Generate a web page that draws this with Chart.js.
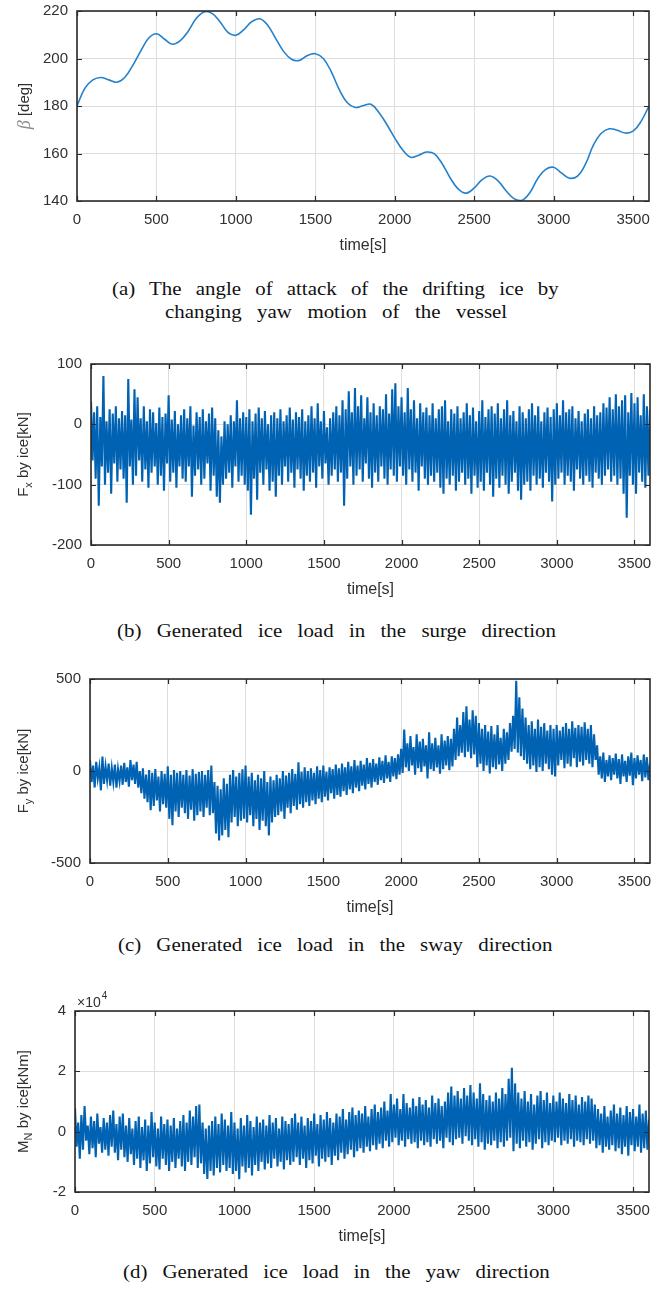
<!DOCTYPE html>
<html>
<head>
<meta charset="utf-8">
<script src="https://cdn.jsdelivr.net/npm/chart.js@4.4.1/dist/chart.umd.min.js"></script>
<style>
  body { margin: 0; background: #fff; width: 665px; height: 1291px; position: relative; overflow: hidden; }
  canvas { position: absolute; left: 0; }
  .cap {
    position: absolute; height: 24px; line-height: 24px;
    font-family: "Liberation Serif", "Times New Roman", serif; font-size: 19px; color: #111;
    text-align: justify; text-align-last: justify;
    transform: scaleX(1.1); transform-origin: 0 0;
  }
</style>
</head>
<body>
<canvas id="pa"></canvas>
<canvas id="pb"></canvas>
<canvas id="pc"></canvas>
<canvas id="pd"></canvas>
<div class="cap" style="left:112px; top:277px; width:406px;">(a) The angle of attack of the drifting ice by</div>
<div class="cap" style="left:165px; top:300px; width:311px;">changing yaw motion of the vessel</div>
<div class="cap" style="left:117px; top:619px; width:399px;">(b) Generated ice load in the surge direction</div>
<div class="cap" style="left:118px; top:933px; width:395px;">(c) Generated ice load in the sway direction</div>
<div class="cap" style="left:123px; top:1260px; width:388px;">(d) Generated ice load in the yaw direction</div>
<script>
// common time axis
const timeTicks = [0, 500, 1000, 1500, 2000, 2500, 3000, 3500];

// (a) angle of attack beta [deg], one value every 50 s from t = 0
const betaStep = 50;
const betaDeg = [
  180, 187.5, 191, 192, 191, 190, 192, 197, 203, 208.5,
  210.4, 208.2, 206, 207.5, 211.5, 216.8, 219.6, 219, 215.5, 211,
  209.8, 212.2, 215.5, 216.7, 214, 208.5, 203, 199.7, 199.2, 201.3,
  202, 200, 194.5, 187, 181.5, 179.4, 180.1, 180.7, 177.3, 172.2,
  166.5, 161.5, 158.4, 159.3, 160.6, 159.8, 155.5, 149.6, 145, 143.3,
  145.5, 149, 150.5, 148.5, 144.3, 141, 140.3, 143.5, 149.5, 153.3,
  154.2, 151.7, 149.6, 150.5, 155.5, 163.5, 168.5, 170.4, 169.8, 168.6,
  169.4, 173.5, 180
];
const betaTicks = [140, 160, 180, 200, 220];

// ice load records: local peaks at t = 0, 20, 40 ... and troughs 10 s after each peak
const peakStep = 20;

// (b) surge force Fx [kN]
const fxPeaks = [
  38, 20, 30, 12, 80, 5, 25, 18, 30, 10,
  22, 15, 75, 8, 58, 45, 10, 30, 5, 25,
  20, 2, 28, 12, 18, 48, 8, 22, 0, 15,
  25, 10, 30, -2, 20, 12, 25, 5, 18, 28,
  10, -10, -20, 5, 0, 15, 5, 40, 10, 20,
  12, 25, 5, 18, 28, 10, 22, 0, 15, 20,
  10, 25, 5, 15, 28, 8, 20, 12, 25, 5,
  15, 30, 10, 35, 5, 22, -5, 10, 20, 30,
  15, 40, 25, 55, 20, 60, 30, 48, 10, 45,
  20, 35, 15, 30, 25, 50, 18, 58, 68, 30,
  45, 20, 60, 25, 40, 10, 35, 20, 28, 15,
  35, 10, 25, 30, 40, 5, 25, 18, 30, 10,
  20, 35, 15, 28, 5, 22, 40, 12, 25, 30,
  18, 35, 10, 25, 40, 15, 22, 5, 30, 20,
  10, 25, 35, 15, 30, 5, 20, 28, 12, 25,
  35, 15, 40, 20, 25, 30, 10, 22, 5, 18,
  25, 10, 30, 15, 20, 35, 28, 45, 25, 50,
  30, 40, 48, 20, 52, 35, 45, 15, 50, 30,
  25
];
const fxTroughs = [
  -60, -90, -135, -70, -100, -80, -115, -65, -95, -75,
  -90, -130, -70, -100, -85, -60, -95, -75, -105, -80,
  -70, -100, -85, -110, -65, -95, -80, -105, -70, -90,
  -95, -70, -120, -85, -75, -100, -90, -65, -110, -85,
  -120, -130, -100, -90, -80, -105, -70, -95, -85, -100,
  -110, -150, -90, -125, -80, -100, -75, -110, -95, -120,
  -85, -100, -70, -95, -80, -105, -75, -90, -110, -85,
  -95, -80, -105, -70, -90, -65, -100, -85, -75, -95,
  -80, -135, -90, -70, -100, -85, -75, -95, -65, -90,
  -105, -80, -95, -70, -90, -100, -75, -85, -95, -70,
  -85, -100, -75, -95, -80, -110, -70, -90, -100, -85,
  -95, -80, -105, -115, -90, -100, -85, -110, -95, -80,
  -100, -90, -115, -85, -105, -95, -110, -80, -100, -120,
  -90, -105, -85, -100, -115, -95, -80, -110, -125, -100,
  -95, -110, -85, -100, -90, -105, -80, -95, -128, -100,
  -90, -80, -100, -85, -95, -110, -75, -90, -100, -85,
  -95, -105, -80, -90, -100, -85, -75, -95, -85, -100,
  -90, -115, -155, -85, -100, -115, -80, -95, -105, -85
];
const fxTicks = [-200, -100, 0, 100];

// (c) sway force Fy [kN]
const fyPeaks = [
  60, 30, 50, 20, 78, 25, 40, 15, 35, 10,
  30, 45, 20, 60, 35, 50, 0, 15, -20, 5,
  -10, 10, -30, 0, -15, 25, -20, 5, -10, 0,
  -20, 5, -25, 10, -15, -5, 0, -20, 5, 30,
  -60, -80, -100, -40, -70, -20, 5, -30, -10, 10,
  30, -30, -10, -50, -20, -40, 0, -60, -30, -50,
  -20, -40, 0, -25, -10, 10, -15, 47, -5, 20,
  0, 15, -10, 25, 5, 30, -5, 20, 10, 35,
  15, 40, 20, 50, 25, 60, 30, 55, 35, 70,
  45, 65, 40, 75, 55, 85, 50, 80, 70, 90,
  120, 225, 150, 190, 130, 200, 160, 175, 140, 210,
  150, 180, 140, 200, 165, 190, 175, 230, 290, 250,
  320, 352, 280, 330, 300, 260, 230, 250, 215, 245,
  200, 250, 180, 230, 210, 260, 300, 490, 400, 340,
  290, 250, 270, 230, 280, 240, 260, 220, 250, 230,
  250, 220, 240, 260, 230, 270, 235, 250, 240, 265,
  230, 250, 200, 140, 80, 100, 60, 85, 70, 95,
  65, 90, 55, 80, 100, 70, 85, 60, 90, 75,
  40
];
const fyTroughs = [
  -60, -90, -40, -105, -70, -50, -80, -60, -90, -55,
  -75, -60, -85, -50, -70, -90, -120, -150, -170, -213,
  -190, -160, -220, -180, -200, -260, -295, -220, -250, -200,
  -230, -260, -210, -270, -240, -220, -250, -200, -240, -230,
  -340, -378, -350, -320, -360, -280, -250, -300, -270, -260,
  -280, -240, -300, -260, -320, -270, -300, -350, -280, -250,
  -240, -220, -260, -200, -230, -190, -210, -180, -200, -170,
  -190, -160, -180, -150, -170, -140, -160, -120, -150, -130,
  -140, -110, -130, -100, -120, -90, -110, -80, -100, -70,
  -90, -60, -75, -50, -65, -40, -60, -30, -45, -20,
  -10, 20, 0, 30, -20, 15, -5, 25, -40, 10,
  0, 20, -15, 10, 30, 5, 25, 60, 80, 100,
  75, 105, 70, 90, 20, 40, 0, 30, -13, 20,
  10, 35, 0, 40, 60, 105, 120, 100, 80, 60,
  40, 10, 30, -5, 20, 0, 40, 10, -20, -30,
  30, 60, 15, 40, 25, 70, 20, 50, 30, 60,
  40, 20, 60, -20, -40, -60, -30, -50, -20, -40,
  -70, -30, -60, -25, -77, -40, -20, -55, -35, -50
];
const fyTicks = [-500, 0, 500];

// (d) yaw moment MN [x10^4 kNm]
const mnPeaks = [
  0.78, 0.3, 0.55, 0.85, 0.2, 0.5, 0.35, 0.6, 0.15, 0.45,
  0.3, 0.55, 0.7, 0.25, 0.5, 0.6, 0.2, 0.45, 0.1, 0.35,
  0.5, 0.15, 0.4, 0.2, 0.65, 0.3, 0.1, 0.5, 0.25, 0.4,
  0.2, 0.45, 0.1, 0.35, 0.55, 0.3, 0.7, 0.5, 0.85, 0.9,
  0.3, 0.1, 0.2, 0.35, 0.5, 0.25, 0.6, 0.4, 0.2, 0.65,
  0.3, 0.1, 0.45, 0.2, 0.55, 0.35, 0.15, 0.5, 0.3, 0.4,
  0.2, 0.55, 0.3, 0.45, 0.1, 0.5, 0.35, 0.25, 0.45, 0.6,
  0.3, 0.5, 0.2, 0.45, 0.35, 0.6, 0.25, 0.55, 0.4, 0.65,
  0.45, 0.3, 0.6, 0.5, 0.75, 0.4, 0.65, 0.8, 0.55, 0.7,
  0.6, 0.85, 0.5, 0.75, 0.9, 0.65, 0.8, 1.0, 0.7, 1.25,
  0.9, 1.1, 0.75, 1.25, 0.95, 0.8, 1.1, 0.85, 1.15, 0.9,
  1.05, 0.8, 1.2, 0.95, 1.1, 0.85, 1.0, 1.3, 1.5, 1.2,
  1.35, 1.1, 1.45, 1.2, 1.55, 1.3, 1.1, 1.6, 1.25, 1.05,
  1.2, 1.0, 1.3, 1.1, 1.45, 1.25, 1.75, 2.12, 1.6, 1.3,
  1.1, 1.35, 1.0, 1.25, 0.9, 1.2, 1.35, 1.05, 1.3, 0.95,
  1.2, 1.0, 1.3, 1.1, 0.95, 1.25, 1.05, 1.2, 0.9, 1.15,
  1.0, 1.2, 1.1, 0.9, 0.75, 0.6, 0.85, 0.5, 0.7, 0.9,
  0.6, 0.8, 0.55, 0.85, 0.65, 0.75, 0.5, 0.9, 0.6, 0.7,
  0.4
];
const mnTroughs = [
  -0.5, -0.9, -0.6, -0.3, -0.75, -0.55, -0.85, -0.4, -0.7, -0.6,
  -0.8, -0.5, -0.7, -0.95, -0.6, -0.85, -1.0, -0.75, -1.1, -0.9,
  -1.2, -0.95, -1.3, -1.05, -0.85, -1.15, -1.25, -0.9, -1.1, -1.3,
  -1.0, -1.2, -0.9, -1.15, -1.3, -1.0, -1.1, -0.85, -1.2, -1.05,
  -1.4, -1.57, -1.3, -1.45, -1.2, -1.35, -1.1, -1.3, -1.2, -1.4,
  -1.3, -1.58, -1.15, -1.35, -1.2, -1.45, -1.1, -1.3, -1.0, -1.25,
  -1.05, -1.2, -0.9, -1.15, -1.0, -1.25, -0.95, -1.1, -1.0, -0.85,
  -1.1, -0.9, -1.2, -0.95, -1.05, -0.8, -1.15, -0.9, -1.0, -0.85,
  -1.1, -0.8, -0.95, -0.7, -0.9, -0.75, -0.6, -0.85, -0.65, -0.55,
  -0.7, -0.5, -0.65, -0.45, -0.6, -0.4, -0.55, -0.3, -0.5, -0.35,
  -0.2, -0.45, -0.3, -0.5, -0.25, -0.4, -0.35, -0.55, -0.3, -0.45,
  -0.35, -0.5, -0.25, -0.4, -0.3, -0.55, -0.2, -0.35, -0.45, -0.25,
  -0.2, -0.4, -0.15, -0.3, -0.45, -0.25, -0.5, -0.35, -0.6, -0.4,
  -0.45, -0.3, -0.55, -0.35, -0.5, -0.3, -0.2, -0.65, -0.4, -0.55,
  -0.3, -0.5, -0.35, -0.6, -0.4, -0.25, -0.55, -0.35, -0.45, -0.3,
  -0.35, -0.2, -0.45, -0.3, -0.4, -0.25, -0.5, -0.3, -0.35, -0.45,
  -0.25, -0.4, -0.3, -0.55, -0.45, -0.7, -0.5, -0.6, -0.45, -0.65,
  -0.55, -0.75, -0.5, -0.8, -0.45, -0.65, -0.5, -0.7, -0.55, -0.6
];
const mnTicks = [-2, 0, 2, 4];

const SANS = '"Liberation Sans", Arial, sans-serif';
const TEXT = '#303030';

function seriesFrom(peaks, troughs) {
  const pts = [];
  peaks.forEach((v, i) => {
    pts.push({ x: i * peakStep, y: v });
    if (i < troughs.length) pts.push({ x: i * peakStep + peakStep / 2, y: troughs[i] });
  });
  return pts;
}

// box + inward tick marks on all four sides, then the rotated y label
const framePlugin = {
  id: 'frame',
  afterDraw(chart, args, opts) {
    const { ctx, chartArea: a, scales: { x, y } } = chart;
    ctx.save();
    ctx.strokeStyle = '#2a2a2a';
    ctx.lineWidth = 1.2;
    ctx.beginPath();
    x.ticks.forEach(t => {
      const px = Math.round(x.getPixelForValue(t.value)) + 0.5;
      ctx.moveTo(px, a.bottom); ctx.lineTo(px, a.bottom - 5);
      ctx.moveTo(px, a.top); ctx.lineTo(px, a.top + 5);
    });
    y.ticks.forEach(t => {
      const py = Math.round(y.getPixelForValue(t.value)) + 0.5;
      ctx.moveTo(a.left, py); ctx.lineTo(a.left + 5, py);
      ctx.moveTo(a.right, py); ctx.lineTo(a.right - 5, py);
    });
    ctx.stroke();
    ctx.lineWidth = 1.6;
    ctx.strokeRect(a.left, a.top, a.right - a.left, a.bottom - a.top);

    // y axis title, drawn piece by piece for subscripts
    ctx.translate(opts.labelX, (a.top + a.bottom) / 2);
    ctx.rotate(-Math.PI / 2);
    ctx.textBaseline = 'middle';
    let w = 0;
    opts.parts.forEach(p => { ctx.font = p.font; w += ctx.measureText(p.text).width; });
    let cx = -w / 2;
    opts.parts.forEach(p => {
      ctx.font = p.font;
      ctx.fillStyle = p.color || TEXT;
      ctx.fillText(p.text, cx, p.dy || 0);
      cx += ctx.measureText(p.text).width;
    });
    ctx.restore();

    if (opts.exponent) {
      ctx.save();
      ctx.fillStyle = TEXT;
      ctx.textBaseline = 'alphabetic';
      ctx.font = '14px ' + SANS;
      ctx.fillText('\u00d710', a.left + 2, a.top - 4);
      const ew = ctx.measureText('\u00d710').width;
      ctx.font = '10px ' + SANS;
      ctx.fillText(opts.exponent, a.left + 2 + ew + 1, a.top - 12);
      ctx.restore();
    }
  }
};

function panel(id, box, yTicks, data, line, frameOpts) {
  const canvas = document.getElementById(id);
  const h = box.bottom - box.top + 90;
  canvas.width = 665;
  canvas.height = h;
  canvas.style.top = (box.top - 30) + 'px';
  new Chart(canvas, {
    type: 'line',
    data: {
      datasets: [{
        data: data,
        borderColor: line.color,
        borderWidth: line.width,
        tension: line.tension,
        pointRadius: 0,
        fill: false
      }]
    },
    options: {
      responsive: false,
      animation: false,
      events: [],
      layout: { padding: { top: 30, right: 665 - box.right, left: 0, bottom: 0 } },
      plugins: {
        legend: { display: false },
        tooltip: { enabled: false },
        frame: frameOpts
      },
      scales: {
        x: {
          type: 'linear',
          min: 0,
          max: 3600,
          afterBuildTicks: s => { s.ticks = timeTicks.map(v => ({ value: v })); },
          afterFit: s => { s.height = 60; },
          grid: { color: '#dedede', lineWidth: 1, drawTicks: false },
          border: { display: false },
          ticks: {
            autoSkip: false, maxRotation: 0, padding: 10, color: TEXT,
            font: { family: SANS, size: 15 },
            callback: v => String(v)
          },
          title: {
            display: true, text: 'time[s]', color: TEXT,
            font: { family: SANS, size: 16 },
            padding: { top: 0, bottom: 6 }
          }
        },
        y: {
          type: 'linear',
          min: yTicks[0],
          max: yTicks[yTicks.length - 1],
          afterBuildTicks: s => { s.ticks = yTicks.map(v => ({ value: v })); },
          afterFit: s => { s.width = box.left; },
          grid: { color: '#dedede', lineWidth: 1, drawTicks: false },
          border: { display: false },
          ticks: {
            padding: 9, color: TEXT,
            font: { family: SANS, size: 15 },
            callback: v => String(v)
          }
        }
      }
    },
    plugins: [framePlugin]
  });
}

const SUB = { font: '11px ' + SANS, dy: 5 };
const LAB = '15px ' + SANS;
const NOISE = { color: '#0062b2', width: 2.1, tension: 0 };

panel('pa', { left: 77, top: 11, right: 649, bottom: 201 }, betaTicks,
  betaDeg.map((v, i) => ({ x: i * betaStep, y: v })),
  { color: '#2481cc', width: 1.6, tension: 0.4 },
  { labelX: 25, parts: [
    { text: '\u03b2', font: 'italic 18px "Liberation Serif", serif', color: '#8c8c8c' },
    { text: ' [deg]', font: LAB }
  ] });

panel('pb', { left: 91, top: 364, right: 650, bottom: 545 }, fxTicks,
  seriesFrom(fxPeaks, fxTroughs), NOISE,
  { labelX: 24, parts: [
    { text: 'F', font: LAB },
    { text: 'x', font: SUB.font, dy: SUB.dy },
    { text: ' by ice[kN]', font: LAB }
  ] });

panel('pc', { left: 90, top: 679, right: 650, bottom: 863 }, fyTicks,
  seriesFrom(fyPeaks, fyTroughs), NOISE,
  { labelX: 24, parts: [
    { text: 'F', font: LAB },
    { text: 'y', font: SUB.font, dy: SUB.dy },
    { text: ' by ice[kN]', font: LAB }
  ] });

panel('pd', { left: 75, top: 1011, right: 649, bottom: 1192 }, mnTicks,
  seriesFrom(mnPeaks, mnTroughs), NOISE,
  { labelX: 24, exponent: '4', parts: [
    { text: 'M', font: LAB },
    { text: 'N', font: SUB.font, dy: SUB.dy },
    { text: ' by ice[kNm]', font: LAB }
  ] });
</script>
</body>
</html>
